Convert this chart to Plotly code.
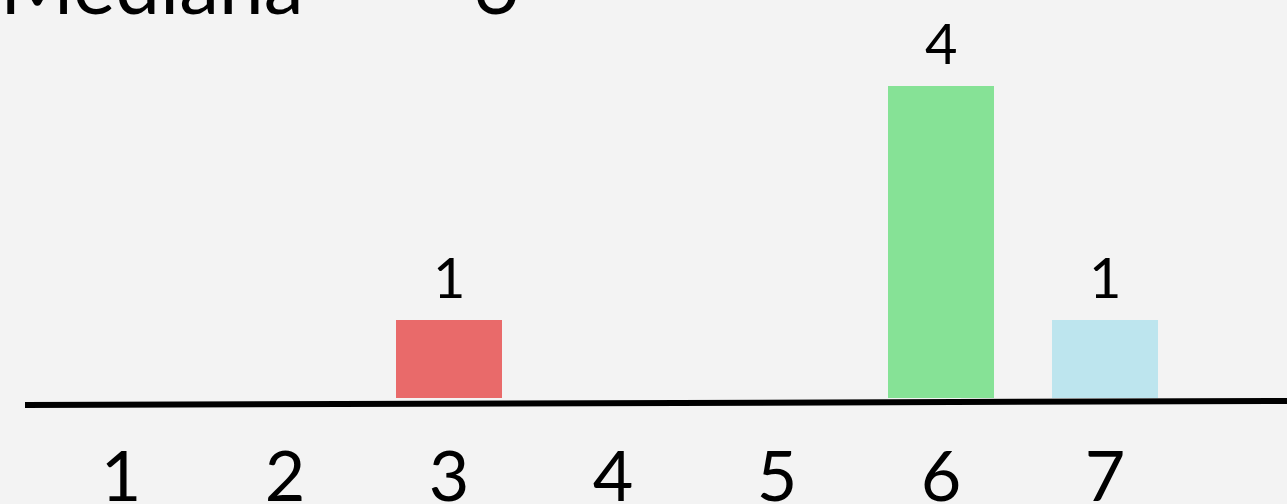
import plotly.graph_objects as go

categories = [1, 2, 3, 4, 5, 6, 7]
tick_labels = ["1", "2", "3", "4", "5", "6", "7"]
counts = [0, 0, 1, 0, 0, 4, 1]
bar_colors = ["#E96A6A", "#E96A6A", "#E96A6A", "#86E296", "#86E296", "#86E296", "#BDE5EE"]
title_text = "Mediana\u00a0\u00a0\u00a0=\u00a0\u00a0\u00a06"

BG = "#F3F3F3"
FONT = "Lato, 'Noto Sans', sans-serif"

fig = go.Figure()
fig.add_trace(go.Bar(
    x=categories, y=counts, width=0.65,
    marker=dict(color=bar_colors, line=dict(width=0)),
    hoverinfo="skip",
))

for c, v in zip(categories, counts):
    if v > 0:
        fig.add_annotation(x=c, y=v, text=str(v), showarrow=False,
                           xref="x", yref="y", yanchor="bottom", yshift=8,
                           font=dict(family=FONT, size=56, color="black"))

fig.add_shape(type="line", xref="paper", yref="paper",
              x0=0, x1=1, y0=-0.0176, y1=-0.0075,
              line=dict(color="black", width=6))

fig.update_layout(
    width=1287, height=504,
    paper_bgcolor=BG, plot_bgcolor=BG,
    margin=dict(l=25, r=0, t=0, b=106, autoexpand=False),
    showlegend=False,
    title=dict(text=title_text, x=0, xref="container", xanchor="left",
               y=0.973, yref="container", yanchor="bottom",
               pad=dict(l=0, r=0, t=0, b=0),
               font=dict(family=FONT, size=80, color="black")),
    xaxis=dict(range=[0.4146, 8.11], tickmode="array", tickvals=categories,
               ticktext=tick_labels, showgrid=False, zeroline=False,
               showline=False, ticks="", ticklabelstandoff=32, automargin=False,
               tickfont=dict(family=FONT, size=70, color="black")),
    yaxis=dict(range=[0, 5.1], visible=False, showgrid=False, zeroline=False,
               automargin=False),
    bargap=0,
)

fig.write_html("out.html", config={"displayModeBar": False},
               post_script="document.body.style.margin='0';document.body.style.background='#F3F3F3';")
